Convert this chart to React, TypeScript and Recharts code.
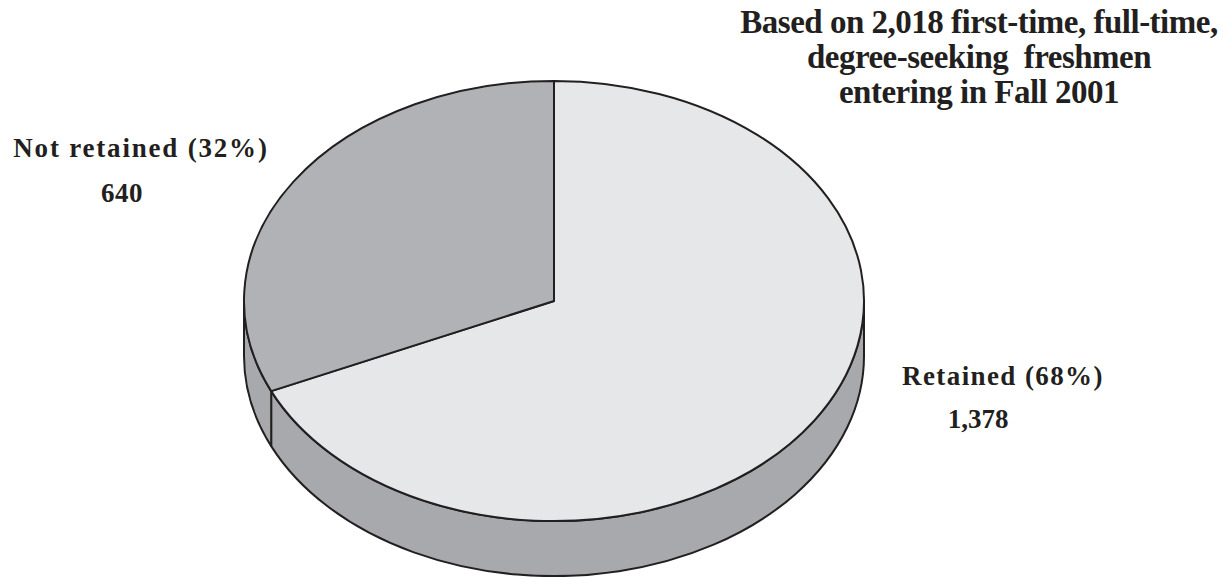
import React from 'react';
import { PieChart, Pie, Cell } from 'recharts';

const categories = ['Retained', 'Not retained'];
const counts = [1378, 640];
const percents = ['68%', '32%'];
const countLabels = ['1,378', '640'];
const titleLines = [
  'Based on 2,018 first-time, full-time,',
  'degree-seeking  freshmen',
  'entering in Fall 2001',
];

const topColors = ['#e6e7e8', '#b1b2b5'];
const sideColors = ['#a8a9ac', '#a8a9ac'];
const EDGE = '#231f20';

const data = categories.map((name, i) => ({ name, value: counts[i] }));

const RAD = Math.PI / 180;
const SQUASH = 0.71; // vertical squash of the tilted disc
const DEPTH = 55; // thickness of the disc

const pt = (cx: number, cy: number, rx: number, ry: number, a: number) =>
  [cx + rx * Math.cos(a * RAD), cy - ry * Math.sin(a * RAD)] as const;

// draws one slice as a tilted 3d wedge: visible side band, then the top face
const Slice3D = (props: any) => {
  const { cx, cy, outerRadius, startAngle, endAngle, index } = props;
  const rx = outerRadius;
  const ry = outerRadius * SQUASH;
  const i = index ?? categories.indexOf(props.name ?? props.payload?.name);

  const s = pt(cx, cy, rx, ry, startAngle);
  const e = pt(cx, cy, rx, ry, endAngle);
  const span = Math.abs(startAngle - endAngle);
  const sweep = startAngle > endAngle ? 1 : 0;
  const top = `M${cx},${cy} L${s[0]},${s[1]} A${rx},${ry} 0 ${span > 180 ? 1 : 0} ${sweep} ${e[0]},${e[1]} Z`;

  const lo = Math.min(startAngle, endAngle);
  const hi = Math.max(startAngle, endAngle);
  const sides: string[] = [];
  for (let n = -2; n <= 2; n++) {
    const a1 = Math.max(lo, 180 + 360 * n);
    const a2 = Math.min(hi, 360 + 360 * n);
    if (a2 - a1 > 0.01) {
      const p1 = pt(cx, cy, rx, ry, a1);
      const p2 = pt(cx, cy, rx, ry, a2);
      const big = a2 - a1 > 180 ? 1 : 0;
      sides.push(
        `M${p1[0]},${p1[1]} A${rx},${ry} 0 ${big} 0 ${p2[0]},${p2[1]} L${p2[0]},${p2[1] + DEPTH} A${rx},${ry} 0 ${big} 1 ${p1[0]},${p1[1] + DEPTH} Z`
      );
    }
  }

  return (
    <g>
      {sides.map((d, k) => (
        <path key={k} d={d} fill={sideColors[i] ?? '#a8a9ac'} stroke={EDGE} strokeWidth={2} strokeLinejoin="round" />
      ))}
      <path d={top} fill={topColors[i] ?? '#e6e7e8'} stroke={EDGE} strokeWidth={2} strokeLinejoin="round" />
    </g>
  );
};

const serif = '"Liberation Serif", "DejaVu Serif", serif';

const App: React.FC = () => {
  return (
    <div style={{ position: 'absolute', left: 0, top: 0, width: 1224, height: 577, background: '#fff' }}>
      <PieChart width={1224} height={577} margin={{ top: 0, right: 0, bottom: 0, left: 0 }}>
        <Pie
          data={data}
          dataKey="value"
          nameKey="name"
          cx={554}
          cy={301}
          outerRadius={310}
          startAngle={90}
          endAngle={-270}
          stroke="none"
          shape={Slice3D}
          isAnimationActive={false}
        >
          {data.map((d, i) => (
            <Cell key={d.name} fill={topColors[i]} />
          ))}
        </Pie>
      </PieChart>
      <svg
        width={1224}
        height={577}
        style={{ position: 'absolute', left: 0, top: 0, pointerEvents: 'none' }}
        fontFamily={serif}
        fill="#231f20"
      >
        {titleLines.map((t, k) => (
          <text
            key={t}
            x={979}
            y={33 + k * 35}
            textAnchor="middle"
            fontSize={33}
            fontWeight="bold"
            letterSpacing={-0.5}
            style={{ whiteSpace: 'pre' }}
          >
            {t}
          </text>
        ))}
        <text x={141} y={157} textAnchor="middle" fontSize={27} fontWeight="bold" letterSpacing={1.8}>
          {`${categories[1]} (${percents[1]})`}
        </text>
        <text x={122} y={202} textAnchor="middle" fontSize={27} fontWeight="bold" letterSpacing={0.5}>
          {countLabels[1]}
        </text>
        <text x={1003} y={385} textAnchor="middle" fontSize={27} fontWeight="bold" letterSpacing={1.4}>
          {`${categories[0]} (${percents[0]})`}
        </text>
        <text x={978} y={428} textAnchor="middle" fontSize={27} fontWeight="bold" letterSpacing={0}>
          {countLabels[0]}
        </text>
      </svg>
    </div>
  );
};

export default App;
